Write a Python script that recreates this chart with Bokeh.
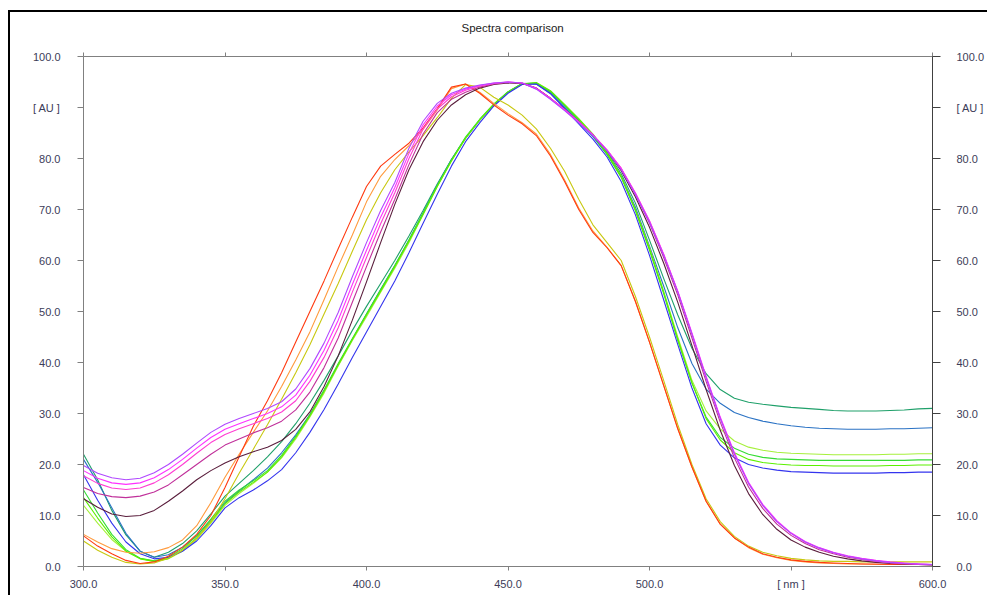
from bokeh.plotting import figure
from bokeh.models import Range1d, LinearAxis, FixedTicker, NumeralTickFormatter
from bokeh.embed import file_html
from bokeh.resources import INLINE

wl = [300, 305, 310, 315, 320, 325, 330, 335, 340, 345, 350, 355, 360, 365, 370, 375, 380, 385, 390, 395,
      400, 405, 410, 415, 420, 425, 430, 435, 440, 445, 450, 455, 460, 465, 470, 475, 480, 485, 490, 495,
      500, 505, 510, 515, 520, 525, 530, 535, 540, 545, 550, 555, 560, 565, 570, 575, 580, 585, 590, 595, 600]

violet = [19.8, 18.3, 17.4, 17.0, 17.3, 18.4, 20.0, 22.0, 24.2, 26.3, 27.9, 29.0, 30.0, 31.0, 32.3, 34.8, 38.8, 43.8, 49.8, 56.8,
          63.5, 69.8, 75.3, 82.0, 87.3, 90.8, 92.8, 93.8, 94.4, 94.8, 95.0, 94.8, 93.6, 91.6, 89.4, 87.0, 84.5, 81.5, 77.8, 73.0,
          67.5, 61.0, 53.8, 45.5, 37.0, 29.0, 22.0, 16.3, 12.0, 8.8, 6.5, 4.8, 3.6, 2.7, 2.0, 1.5, 1.1, 0.8, 0.6, 0.5, 0.4]
magenta = [18.8, 17.3, 16.4, 16.1, 16.4, 17.4, 19.0, 21.0, 23.2, 25.3, 26.9, 28.0, 29.0, 30.0, 31.3, 33.6, 37.5, 42.4, 48.3, 55.3,
           62.0, 68.5, 74.3, 81.0, 86.6, 90.3, 92.5, 93.6, 94.3, 94.8, 95.0, 94.8, 93.7, 91.7, 89.5, 87.1, 84.6, 81.6, 78.0, 73.2,
           67.7, 61.2, 54.0, 45.8, 37.3, 29.3, 22.3, 16.5, 12.2, 9.0, 6.6, 4.9, 3.7, 2.8, 2.1, 1.6, 1.2, 0.9, 0.7, 0.5, 0.4]
pink = [17.8, 16.3, 15.4, 15.1, 15.4, 16.4, 18.0, 20.0, 22.2, 24.3, 25.9, 27.0, 28.0, 29.0, 30.3, 32.5, 36.3, 41.0, 46.8, 53.8,
        60.6, 67.2, 73.3, 80.0, 85.8, 89.7, 92.1, 93.4, 94.2, 94.7, 95.0, 94.8, 93.7, 91.8, 89.6, 87.2, 84.7, 81.7, 78.1, 73.3,
        67.8, 61.3, 53.9, 45.6, 37.1, 29.1, 22.1, 16.3, 12.0, 8.8, 6.5, 4.8, 3.6, 2.7, 2.0, 1.5, 1.1, 0.8, 0.6, 0.5, 0.4]
plum = [15.5, 14.3, 13.7, 13.5, 13.8, 14.6, 16.0, 18.0, 20.0, 22.0, 23.8, 25.0, 26.2, 27.2, 28.5, 30.7, 34.2, 39.0, 44.8, 51.8,
        58.8, 65.6, 72.0, 78.8, 84.8, 89.0, 91.6, 93.0, 94.0, 94.6, 94.9, 94.8, 93.8, 91.8, 89.6, 87.2, 84.6, 81.6, 78.0, 73.0,
        67.3, 60.6, 53.2, 44.8, 36.3, 28.3, 21.3, 15.6, 11.4, 8.3, 6.1, 4.5, 3.3, 2.5, 1.8, 1.4, 1.0, 0.7, 0.5, 0.4, 0.3]
maroon = [13.3, 11.6, 10.3, 9.8, 10.0, 11.0, 12.8, 14.8, 17.0, 18.8, 20.3, 21.5, 22.5, 23.4, 24.7, 26.9, 30.3, 35.3, 41.3, 48.3,
          55.8, 63.5, 71.0, 77.8, 83.3, 87.5, 90.5, 92.5, 93.8, 94.5, 94.8, 94.7, 93.8, 91.8, 89.6, 87.2, 84.6, 81.5, 77.6, 72.5,
          66.5, 59.5, 51.8, 43.3, 34.7, 26.7, 19.8, 14.3, 10.2, 7.3, 5.2, 3.8, 2.8, 2.0, 1.5, 1.1, 0.8, 0.6, 0.5, 0.4, 0.3]
red = [6.0, 4.0, 2.5, 1.2, 0.6, 0.9, 2.0, 3.8, 6.3, 10.0, 15.5, 21.5, 27.5, 32.5, 38.0, 44.0, 50.0, 56.0, 62.3, 68.5,
       74.5, 78.5, 80.8, 83.0, 86.0, 89.8, 94.0, 94.6, 92.8, 90.5, 88.5, 86.8, 84.5, 80.5, 75.5, 70.0, 65.5, 62.5, 59.0, 52.0,
       44.0, 35.5, 27.0, 19.5, 12.8, 8.3, 5.6, 3.8, 2.5, 1.8, 1.3, 1.0, 0.8, 0.7, 0.6, 0.5, 0.5, 0.4, 0.4, 0.4, 0.4]
orange = [6.3, 4.8, 3.5, 2.8, 2.6, 2.9, 3.7, 5.2, 8.0, 12.5, 17.5, 22.0, 26.3, 30.5, 35.3, 40.5, 46.0, 52.3, 58.8, 65.0,
          71.5, 76.5, 79.8, 82.5, 85.7, 89.5, 93.7, 94.6, 93.0, 90.8, 88.8, 87.0, 84.8, 80.8, 75.8, 70.3, 65.8, 62.6, 59.0, 52.0,
          44.0, 35.5, 27.0, 19.5, 12.8, 8.3, 5.6, 3.7, 2.4, 1.7, 1.2, 0.9, 0.7, 0.6, 0.5, 0.5, 0.4, 0.4, 0.4, 0.4, 0.4]
yellow = [5.0, 3.2, 1.8, 0.8, 0.5, 0.7, 1.6, 3.2, 5.5, 8.8, 13.3, 18.3, 23.0, 27.8, 32.8, 38.0, 43.5, 49.5, 55.5, 61.8,
          68.0, 73.3, 77.8, 81.3, 84.5, 88.0, 91.8, 94.5, 94.0, 92.0, 90.5, 88.5, 85.8, 82.0, 77.5, 72.0, 67.0, 63.5, 60.0, 53.0,
          45.0, 36.5, 27.8, 20.0, 13.3, 8.8, 5.9, 4.0, 2.8, 2.1, 1.6, 1.3, 1.1, 1.0, 1.0, 0.9, 0.9, 0.9, 0.9, 0.9, 0.9]
seagreen = [22.0, 17.0, 11.0, 6.2, 3.0, 1.8, 2.8, 4.5, 7.0, 10.3, 13.8, 16.3, 18.8, 21.5, 24.5, 28.0, 32.0, 36.5, 41.3, 46.3,
            51.0, 55.5, 60.0, 64.8, 69.8, 75.0, 79.8, 84.0, 87.5, 90.5, 93.0, 94.6, 94.7, 93.0, 90.3, 87.5, 84.6, 81.2, 77.0, 71.3,
            64.0, 56.5, 49.3, 42.8, 37.8, 34.7, 33.0, 32.2, 31.8, 31.5, 31.2, 31.0, 30.8, 30.6, 30.5, 30.5, 30.5, 30.6, 30.7, 30.9, 31.0]
steelblue = [21.0, 16.5, 11.5, 6.5, 3.0, 1.8, 2.3, 3.8, 6.0, 9.0, 12.5, 14.8, 17.0, 19.3, 22.3, 25.8, 29.8, 34.5, 39.5, 44.5,
             49.5, 54.3, 59.0, 64.0, 69.3, 74.8, 79.8, 84.0, 87.5, 90.5, 93.0, 94.7, 94.6, 92.8, 90.0, 87.2, 84.3, 80.8, 76.5, 70.5,
             62.8, 55.0, 46.8, 39.8, 34.8, 32.0, 30.2, 29.2, 28.5, 28.0, 27.6, 27.3, 27.1, 27.0, 26.9, 26.9, 26.9, 27.0, 27.0, 27.1, 27.2]
blue = [18.0, 13.0, 8.5, 4.8, 2.5, 1.5, 1.8, 3.0, 5.0, 8.0, 11.5, 13.5, 15.0, 16.8, 19.0, 22.3, 26.3, 30.8, 35.8, 41.0,
        46.0, 51.0, 56.0, 61.5, 67.3, 73.0, 78.5, 83.3, 87.0, 90.3, 92.8, 94.5, 94.6, 92.7, 89.8, 86.8, 83.8, 80.3, 75.5, 69.0,
        61.0, 52.3, 43.5, 35.0, 28.0, 23.8, 21.3, 20.0, 19.3, 18.9, 18.6, 18.5, 18.4, 18.3, 18.3, 18.3, 18.3, 18.4, 18.4, 18.5, 18.5]
yellowgreen = [12.0, 8.5, 5.3, 3.0, 1.6, 1.0, 1.5, 3.0, 5.3, 8.5, 12.0, 14.3, 16.3, 18.5, 21.3, 25.0, 29.3, 34.0, 39.3, 44.3,
               49.0, 53.8, 58.5, 63.5, 69.0, 74.5, 79.5, 84.0, 87.5, 90.5, 93.0, 94.6, 94.8, 93.2, 90.5, 87.7, 84.7, 81.0, 76.5, 70.0,
               62.5, 54.0, 45.0, 36.5, 30.5, 27.0, 24.6, 23.4, 22.8, 22.4, 22.2, 22.1, 22.0, 21.9, 21.9, 21.9, 21.9, 22.0, 22.0, 22.1, 22.1]
green = [15.0, 10.5, 6.3, 3.3, 1.6, 1.1, 1.8, 3.5, 6.0, 9.3, 12.8, 15.0, 16.8, 18.8, 21.8, 25.5, 29.8, 34.6, 39.8, 44.7,
         49.5, 54.3, 59.0, 64.0, 69.3, 74.7, 79.7, 84.2, 87.7, 90.7, 93.1, 94.7, 94.8, 93.1, 90.4, 87.5, 84.5, 80.8, 76.3, 69.8,
         62.0, 53.5, 44.3, 36.0, 29.3, 25.3, 23.2, 22.0, 21.4, 21.1, 21.0, 20.9, 20.8, 20.8, 20.8, 20.8, 20.8, 20.8, 20.8, 20.9, 20.9]
brightgreen = [13.5, 9.5, 5.8, 3.0, 1.5, 1.0, 1.6, 3.2, 5.6, 8.8, 12.3, 14.6, 16.5, 18.5, 21.5, 25.3, 29.5, 34.3, 39.5, 44.5,
               49.3, 54.0, 58.8, 63.8, 69.0, 74.5, 79.5, 84.0, 87.6, 90.6, 93.0, 94.6, 94.9, 93.3, 90.6, 87.8, 84.8, 81.0, 76.5, 70.0,
               62.3, 53.8, 44.6, 36.0, 29.0, 24.8, 22.3, 21.0, 20.4, 20.1, 19.9, 19.8, 19.8, 19.7, 19.7, 19.7, 19.7, 19.8, 19.8, 19.9, 19.9]

series = [
    (seagreen, "#1fa06a"), (steelblue, "#2a72c4"), (yellowgreen, "#a6f03c"), (green, "#34dc34"),
    (brightgreen, "#5cf000"), (blue, "#3434ee"),
    (yellow, "#c8c810"), (orange, "#ff9a3c"), (red, "#ff3a10"),
    (maroon, "#5a1e3c"), (plum, "#c0309a"), (pink, "#ff3cd2"), (magenta, "#ff30ff"), (violet, "#b048ff"),
]

x_ticks = [300, 350, 400, 450, 500, 550, 600]
y_ticks = [0, 10, 20, 30, 40, 50, 60, 70, 80, 90, 100]
x_unit_label = "[ nm ]"
y_unit_label = "[ AU ]"
title_text = "Spectra comparison"

FONT = "Liberation Sans"
LABEL_COLOR = "#3c3c58"

p = figure(width=987, height=595, x_range=Range1d(300, 600), y_range=Range1d(0, 100),
           output_backend="svg", toolbar_location=None,
           x_axis_location=None, y_axis_location=None,
           min_border_left=83, min_border_right=55, min_border_top=56, min_border_bottom=29)
# outer black frame lines (top and left) drawn as the element's CSS background
p.styles = {
    "background": ("linear-gradient(#000, #000) 8px 10px / 100% 2px no-repeat, "
                   "linear-gradient(#000, #000) 8px 10px / 2px 100% no-repeat, #ffffff"),
}
p.grid.visible = False
p.outline_line_color = None
p.background_fill_color = "white"
p.border_fill_color = None

p.title.text = title_text
p.title.align = "left"
p.title.offset = 378
p.title.text_font = FONT
p.title.text_font_size = "11.5px"
p.title.text_font_style = "normal"
p.title.text_color = "#222222"
p.title.standoff = 37

for vals, col in series:
    p.line(wl, vals, line_color=col, line_width=1.1)


def style_axis(ax, ticks, overrides, line_color, tick_out, standoff, labels=True):
    ax.ticker = FixedTicker(ticks=ticks, minor_ticks=[])
    ax.formatter = NumeralTickFormatter(format="0.0")
    ax.major_label_overrides = overrides
    ax.axis_line_color = line_color
    ax.major_tick_line_color = line_color
    ax.major_tick_in = 0
    ax.major_tick_out = tick_out
    ax.minor_tick_line_color = None
    ax.major_label_standoff = standoff
    ax.major_label_text_font = FONT
    ax.major_label_text_font_size = "11px"
    ax.major_label_text_color = LABEL_COLOR if labels else None


left = LinearAxis()
style_axis(left, y_ticks, {90: y_unit_label}, "#808080", 6, 17)
p.add_layout(left, "left")

right = LinearAxis()
style_axis(right, y_ticks, {90: y_unit_label}, "#404040", 8, 16)
p.add_layout(right, "right")

bottom = LinearAxis()
style_axis(bottom, x_ticks, {550: x_unit_label}, "#808080", 4, 7)
p.add_layout(bottom, "below")

top = LinearAxis()
style_axis(top, x_ticks, {}, "#808080", 4, 0, labels=False)
top.major_label_text_font_size = "1px"
p.add_layout(top, "above")

open("out.html", "w").write(file_html(p, INLINE))
